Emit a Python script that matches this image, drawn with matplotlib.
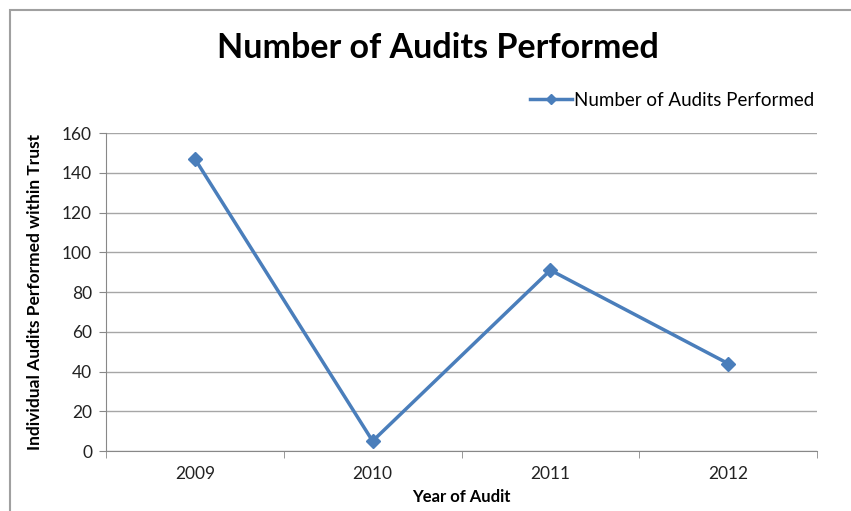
import numpy as np
import matplotlib.pyplot as plt
from matplotlib.patches import Rectangle
from matplotlib.lines import Line2D

years = ['2009', '2010', '2011', '2012']
audits = [147, 5, 91, 44]
yticks = [0, 20, 40, 60, 80, 100, 120, 140, 160]

plt.rcParams['font.family'] = ['Lato', 'DejaVu Sans']

fig = plt.figure(figsize=(8.51, 5.11), dpi=100)
ax = fig.add_axes([106/851, 1-451/511, 711/851, 318/511])

# outer chart frame
fig.patches.append(Rectangle((10/851, -0.05), 1.0, 1 - 10/511 + 0.05,
                             transform=fig.transFigure, fill=False,
                             edgecolor='#a0a0a0', linewidth=1.5))

x = np.arange(len(years))
ax.plot(x, audits, color='#4a7ebb', linewidth=2.5, marker='D', markersize=7)

ax.set_xlim(-0.5, len(years) - 0.5)
ax.set_ylim(0, 160)
ax.set_yticks(yticks)
ax.set_xticks(x)
ax.set_xticklabels(years)
ax.set_xticks(np.arange(-0.5, len(years)), minor=True)
ax.tick_params(axis='x', which='major', length=0, pad=11, labelsize=12.5, colors='#222222')
ax.tick_params(axis='x', which='minor', length=5, color='#888888', direction='out')
ax.tick_params(axis='y', length=5, color='#888888', labelsize=12.5, labelcolor='#222222', pad=5)
ax.grid(axis='y', color='#a6a6a6', linewidth=1)
ax.set_axisbelow(True)
for s in ['top', 'right']:
    ax.spines[s].set_visible(False)
for s in ['left', 'bottom']:
    ax.spines[s].set_color('#888888')

ax.set_ylabel('Individual Audits Performed within Trust', fontsize=12.5,
              fontweight='bold', labelpad=14)
ax.set_xlabel('Year of Audit', fontsize=12, fontweight='bold', labelpad=5)

fig.text(438/851, 1-48/511, 'Number of Audits Performed', ha='center', va='center',
         fontsize=24.5, fontweight='bold')
handle = Line2D([], [], color='#4a7ebb', linewidth=2.5, marker='D', markersize=5)
fig.legend([handle], ['Number of Audits Performed'], loc='center right',
           bbox_to_anchor=(824/851, 1-100/511), frameon=False,
           fontsize=13.5, handlelength=2.2, handletextpad=0.15, borderpad=0)

fig.savefig('out.png', dpi=100)
